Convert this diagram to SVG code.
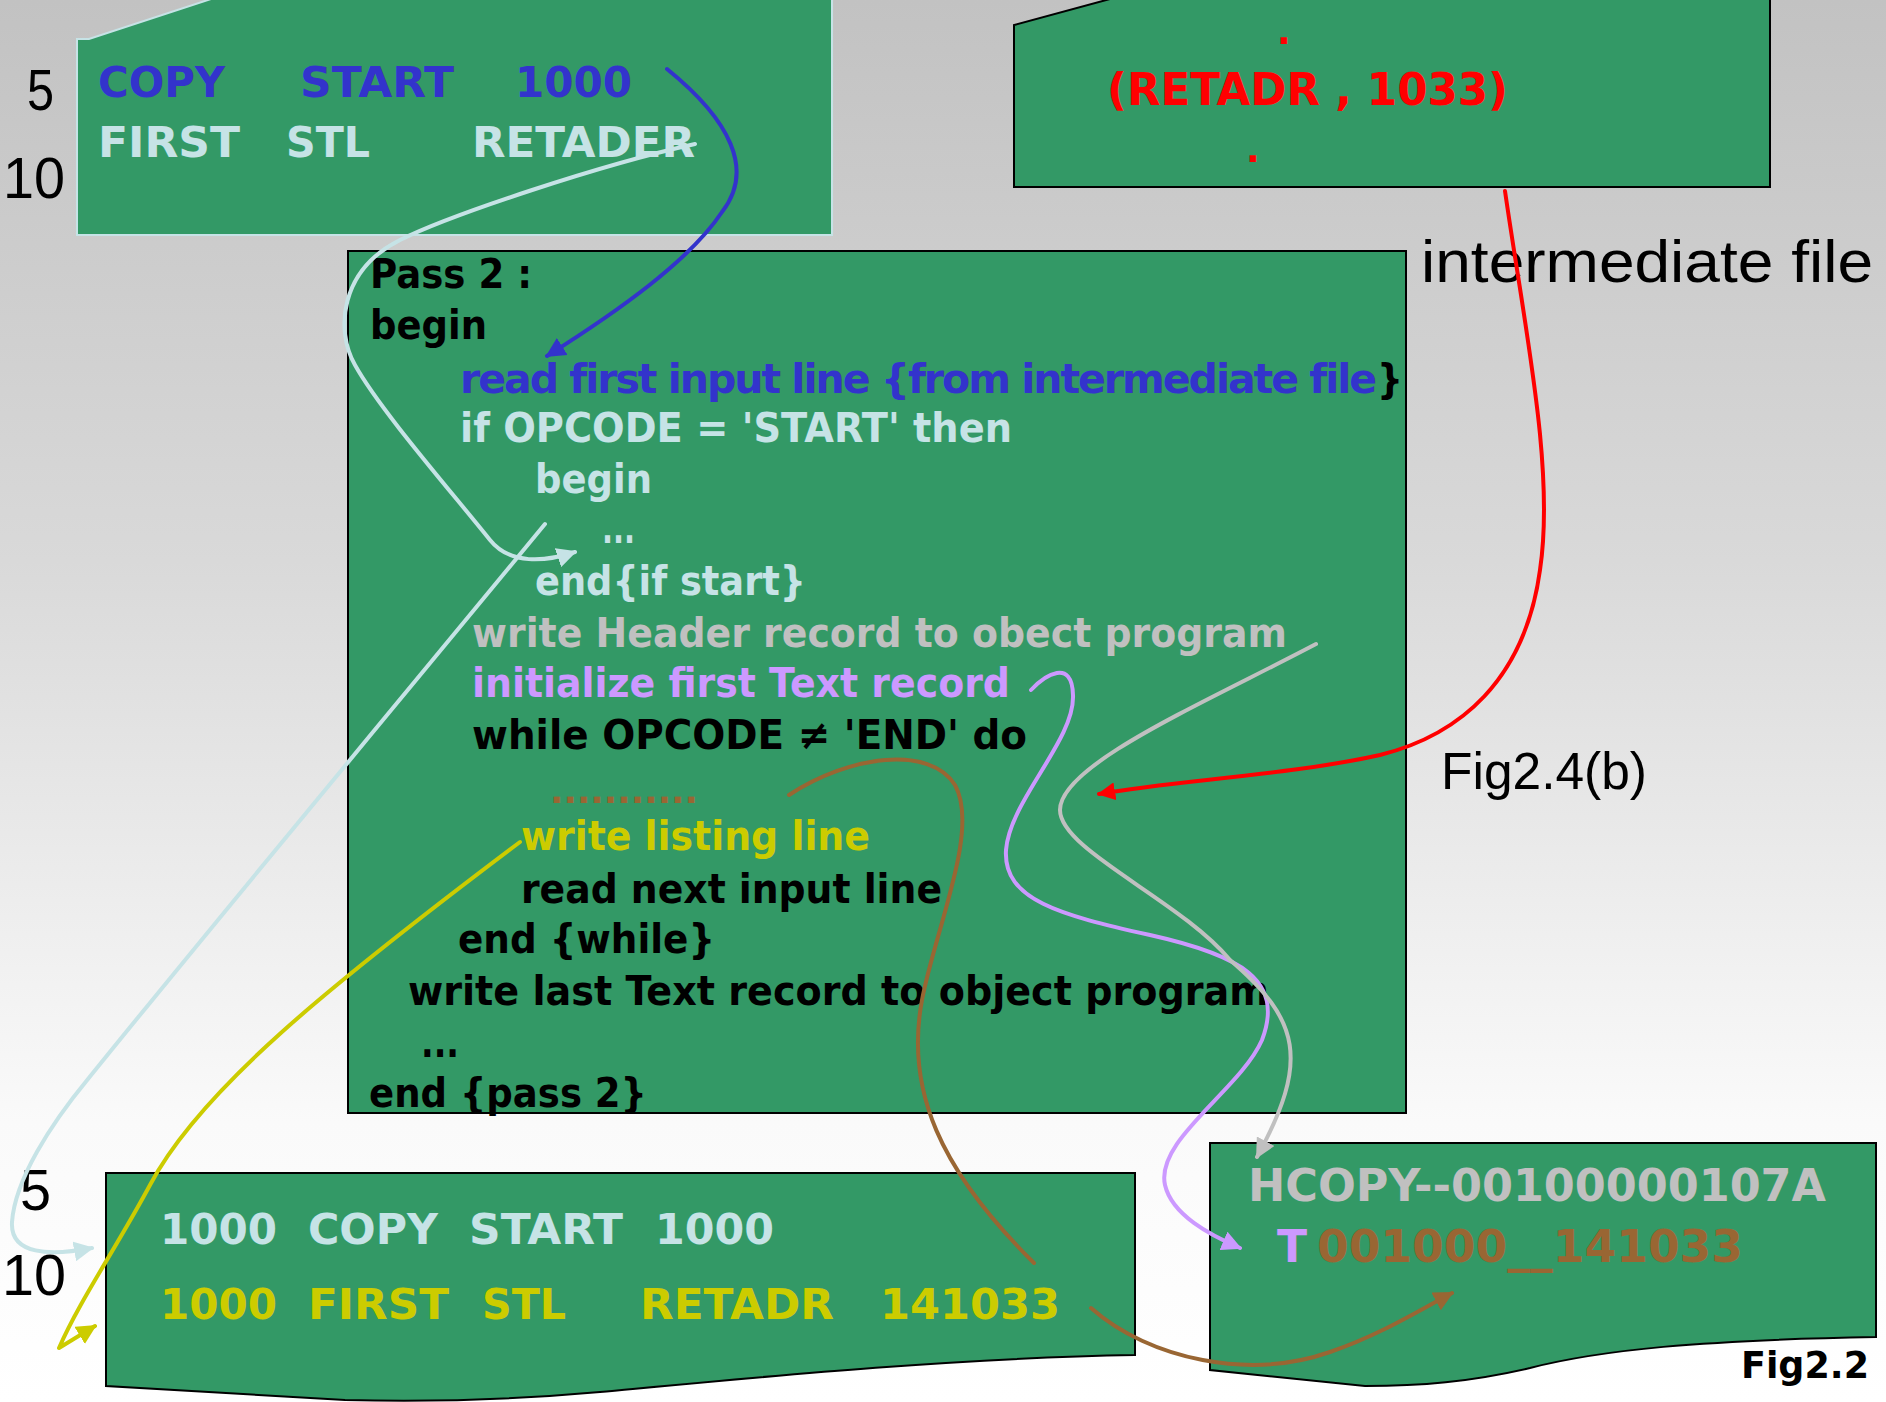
<svg xmlns="http://www.w3.org/2000/svg" width="1886" height="1402" viewBox="0 0 1886 1402">
  <defs>
    <linearGradient id="bg" x1="0" y1="0" x2="0" y2="1">
      <stop offset="0" stop-color="#c2c2c2"/>
      <stop offset="0.4" stop-color="#d9d9d9"/>
      <stop offset="0.8" stop-color="#fafafa"/>
      <stop offset="1" stop-color="#ffffff"/>
    </linearGradient>
    <marker id="ah-blue" viewBox="0 0 10 10" refX="9" refY="5" markerWidth="5" markerHeight="5" orient="auto"><path d="M0,0 L10,5 L0,10 z" fill="#3333cc"/></marker>
    <marker id="ah-cyan" viewBox="0 0 10 10" refX="9" refY="5" markerWidth="5" markerHeight="5" orient="auto"><path d="M0,0 L10,5 L0,10 z" fill="#c6e3e6"/></marker>
    <marker id="ah-yellow" viewBox="0 0 10 10" refX="9" refY="5" markerWidth="5" markerHeight="5" orient="auto"><path d="M0,0 L10,5 L0,10 z" fill="#cccc00"/></marker>
    <marker id="ah-lav" viewBox="0 0 10 10" refX="9" refY="5" markerWidth="5" markerHeight="5" orient="auto"><path d="M0,0 L10,5 L0,10 z" fill="#cc99ff"/></marker>
    <marker id="ah-gray" viewBox="0 0 10 10" refX="9" refY="5" markerWidth="5" markerHeight="5" orient="auto"><path d="M0,0 L10,5 L0,10 z" fill="#c0c0c0"/></marker>
    <marker id="ah-red" viewBox="0 0 10 10" refX="9" refY="5" markerWidth="4.5" markerHeight="4.5" orient="auto"><path d="M0,0 L10,5 L0,10 z" fill="#ff0000"/></marker>
    <marker id="ah-brown" viewBox="0 0 10 10" refX="9" refY="5" markerWidth="5" markerHeight="5" orient="auto"><path d="M0,0 L10,5 L0,10 z" fill="#996633"/></marker>
  </defs>
  <style>
    .box { fill: #339966; stroke: #000000; stroke-width: 2; }
    .code { font-family: "DejaVu Sans", Verdana, sans-serif; font-weight: bold; }
    .c41 { font-size: 41px; }
    .c43 { font-size: 43px; }
    .thin { font-family: "Liberation Sans", Arial, sans-serif; font-weight: normal; fill: #000000; }
    .k { fill: #000000; }
    .blue { fill: #3333cc; }
    .cyan { fill: #c6e3e6; }
    .gray { fill: #c0c0c0; }
    .lav { fill: #cc99ff; }
    .yel { fill: #cccc00; }
    .brown { fill: #996633; }
    .red { fill: #ff0000; }
    .wire { fill: none; stroke-width: 4; stroke-linecap: round; stroke-linejoin: round; }
  </style>

  <!-- background -->
  <rect x="0" y="0" width="1886" height="1402" fill="url(#bg)"/>

  <!-- source program fragment -->
  <g id="source">
    <polygon points="77,39 89,39 211,-1 832,-1 832,235 77,235" fill="#339966" stroke="#c6e3e6" stroke-width="2"/>
    <text class="code c43 blue" x="98" y="97" textLength="127" lengthAdjust="spacingAndGlyphs">COPY</text>
    <text class="code c43 blue" x="300" y="97" textLength="154" lengthAdjust="spacingAndGlyphs">START</text>
    <text class="code c43 blue" x="515" y="97" textLength="117" lengthAdjust="spacingAndGlyphs">1000</text>
    <text class="code c43 cyan" x="98" y="157" textLength="142" lengthAdjust="spacingAndGlyphs">FIRST</text>
    <text class="code c43 cyan" x="286" y="157" textLength="84" lengthAdjust="spacingAndGlyphs">STL</text>
    <text class="code c43 cyan" x="472" y="157" textLength="223" lengthAdjust="spacingAndGlyphs">RETADER</text>
    <text class="thin" font-size="58" x="27" y="110" textLength="27" lengthAdjust="spacingAndGlyphs">5</text>
    <text class="thin" font-size="58" x="3" y="198" textLength="62" lengthAdjust="spacingAndGlyphs">10</text>
  </g>

  <!-- intermediate file fragment -->
  <g id="intermediate">
    <polygon points="1014,187 1014,25 1110,-1 1770,-1 1770,187" class="box"/>
    <text class="code red" font-size="36" x="1277" y="44">.</text>
    <text class="code red" font-size="44" x="1107" y="105" textLength="401" lengthAdjust="spacingAndGlyphs">(RETADR , 1033)</text>
    <text class="code red" font-size="36" x="1246" y="162">.</text>
    <text class="thin" font-size="60" x="1421" y="282" textLength="452" lengthAdjust="spacingAndGlyphs">intermediate file</text>
  </g>

  <!-- pass 2 algorithm -->
  <g id="pass2">
    <rect x="348" y="251" width="1058" height="862" class="box"/>
    <text class="code c41 k" x="370" y="288" textLength="162" lengthAdjust="spacingAndGlyphs">Pass 2 :</text>
    <text class="code c41 k" x="370" y="339" textLength="117" lengthAdjust="spacingAndGlyphs">begin</text>
    <text class="code c41 blue" x="460" y="393" letter-spacing="-2">read first input line {from intermediate file</text>
    <text class="code c41 k" x="1377" y="393" textLength="26" lengthAdjust="spacingAndGlyphs">}</text>
    <text class="code c41 cyan" x="460" y="442" textLength="552" lengthAdjust="spacingAndGlyphs">if OPCODE = 'START' then</text>
    <text class="code c41 cyan" x="535" y="493" textLength="117" lengthAdjust="spacingAndGlyphs">begin</text>
    <text class="code c41 cyan" x="602" y="543" textLength="33" lengthAdjust="spacingAndGlyphs">...</text>
    <text class="code c41 cyan" x="535" y="595" textLength="271" lengthAdjust="spacingAndGlyphs">end{if start}</text>
    <text class="code c41 gray" x="472" y="647" textLength="815" lengthAdjust="spacingAndGlyphs">write Header record to obect program</text>
    <text class="code c41 lav" x="472" y="697" textLength="538" lengthAdjust="spacingAndGlyphs">initialize first Text record</text>
    <text class="code c41 k" x="472" y="749" textLength="555" lengthAdjust="spacingAndGlyphs">while OPCODE ≠ 'END' do</text>
    <text class="code brown" font-size="34" x="550" y="803" textLength="148" lengthAdjust="spacingAndGlyphs">...........</text>
    <text class="code c41 yel" x="521" y="850" textLength="349" lengthAdjust="spacingAndGlyphs">write listing line</text>
    <text class="code c41 k" x="521" y="903" textLength="421" lengthAdjust="spacingAndGlyphs">read next input line</text>
    <text class="code c41 k" x="458" y="953" textLength="257" lengthAdjust="spacingAndGlyphs">end {while}</text>
    <text class="code c41 k" x="408" y="1005" textLength="861" lengthAdjust="spacingAndGlyphs">write last Text record to object program</text>
    <text class="code c41 k" x="421" y="1057" textLength="38" lengthAdjust="spacingAndGlyphs">...</text>
    <text class="code c41 k" x="369" y="1107" textLength="278" lengthAdjust="spacingAndGlyphs">end {pass 2}</text>
    <text class="thin" font-size="52" x="1441" y="789" textLength="206" lengthAdjust="spacingAndGlyphs">Fig2.4(b)</text>
  </g>

  <!-- assembly listing -->
  <g id="listing">
    <path d="M106,1173 H1135 V1355 C 950,1358 750,1378 600,1392 C 500,1401 420,1402 345,1400 L106,1386 Z" class="box"/>
    <text class="code c43 cyan" x="160" y="1244" textLength="117" lengthAdjust="spacingAndGlyphs">1000</text>
    <text class="code c43 cyan" x="308" y="1244" textLength="130" lengthAdjust="spacingAndGlyphs">COPY</text>
    <text class="code c43 cyan" x="469" y="1244" textLength="154" lengthAdjust="spacingAndGlyphs">START</text>
    <text class="code c43 cyan" x="655" y="1244" textLength="119" lengthAdjust="spacingAndGlyphs">1000</text>
    <text class="code c43 yel" x="160" y="1319" textLength="117" lengthAdjust="spacingAndGlyphs">1000</text>
    <text class="code c43 yel" x="308" y="1319" textLength="141" lengthAdjust="spacingAndGlyphs">FIRST</text>
    <text class="code c43 yel" x="482" y="1319" textLength="84" lengthAdjust="spacingAndGlyphs">STL</text>
    <text class="code c43 yel" x="640" y="1319" textLength="194" lengthAdjust="spacingAndGlyphs">RETADR</text>
    <text class="code c43 yel" x="880" y="1319" textLength="180" lengthAdjust="spacingAndGlyphs">141033</text>
    <text class="thin" font-size="58" x="20" y="1210" textLength="31" lengthAdjust="spacingAndGlyphs">5</text>
    <text class="thin" font-size="58" x="2" y="1295" textLength="64" lengthAdjust="spacingAndGlyphs">10</text>
  </g>

  <!-- object program -->
  <g id="object">
    <path d="M1210,1143 H1876 V1337 C 1700,1340 1600,1350 1530,1368 C 1470,1382 1420,1386 1365,1386 L1210,1370 Z" class="box"/>
    <text class="code gray" font-size="44" x="1248" y="1201" textLength="578" lengthAdjust="spacingAndGlyphs">HCOPY--00100000107A</text>
    <text class="code lav" font-size="44" x="1277" y="1262">T</text>
    <text class="code brown" font-size="44" x="1317" y="1262" textLength="426" lengthAdjust="spacingAndGlyphs">001000__141033</text>
    <text class="code k" font-size="38" x="1741" y="1378" textLength="128" lengthAdjust="spacingAndGlyphs">Fig2.2</text>
  </g>

  <!-- connectors -->
  <g id="connectors">
    <path class="wire" stroke="#3333cc" marker-end="url(#ah-blue)" d="M667,69 C 730,120 755,170 722,212 C 690,260 620,310 547,356"/>
    <path class="wire" stroke="#c6e3e6" marker-end="url(#ah-cyan)" d="M695,144 C 600,165 450,215 400,240 C 340,270 335,330 355,365 C 380,410 450,490 490,540 C 510,565 545,562 575,552"/>
    <path class="wire" stroke="#c6e3e6" marker-end="url(#ah-cyan)" d="M545,524 C 400,700 200,940 88,1079 C 50,1125 15,1180 12,1222 C 10,1255 50,1256 92,1248"/>
    <path class="wire" stroke="#cccc00" marker-end="url(#ah-yellow)" d="M520,842 C 330,985 200,1090 150,1185 C 115,1250 80,1300 59,1348 L95,1326"/>
    <path class="wire" stroke="#cc99ff" marker-end="url(#ah-lav)" d="M1031,690 C 1045,675 1072,658 1073,695 C 1075,740 1010,800 1006,850 C 1003,900 1060,915 1150,935 C 1240,955 1285,980 1262,1040 C 1240,1090 1155,1140 1165,1185 C 1172,1215 1210,1235 1240,1248"/>
    <path class="wire" stroke="#c0c0c0" marker-end="url(#ah-gray)" d="M1316,644 C 1200,705 1060,765 1060,810 C 1060,850 1180,900 1230,960 C 1300,1020 1310,1060 1257,1157"/>
    <path class="wire" stroke="#ff0000" stroke-width="5" marker-end="url(#ah-red)" d="M1505,191 C 1525,330 1555,470 1540,570 C 1525,680 1460,735 1380,755 C 1290,775 1180,780 1099,794"/>
    <path class="wire" stroke="#996633" d="M789,795 C 850,755 930,745 955,785 C 980,830 935,930 922,1000 C 905,1090 940,1170 1034,1263"/>
    <path class="wire" stroke="#996633" marker-end="url(#ah-brown)" d="M1091,1308 C 1150,1360 1250,1380 1330,1352 C 1380,1335 1420,1310 1452,1293"/>
  </g>
</svg>
